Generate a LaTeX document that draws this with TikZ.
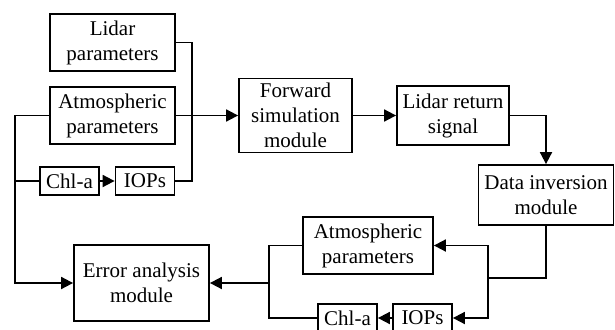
\documentclass[tikz,border=0pt]{standalone}
\usepackage{fontspec}
\setmainfont{Liberation Serif}
\usepackage{tikz}
\usetikzlibrary{calc,positioning,arrows.meta}
\tikzstyle{blockbox} = [rectangle,
    draw=black, line width=1.8pt,
    inner sep=0pt,
    align=center,
    font=\fontsize{21}{25}\selectfont]
\tikzstyle{arrow} = [line width=1.8pt,->,>={Triangle[length=12pt,width=12pt]}]

\begin{document}
\begin{tikzpicture}[x=1pt,y=-1pt,
    line/.style={draw, line width=1.8pt},
    smallbox/.style={blockbox, minimum width=59pt, minimum height=28pt}
    ]
  \useasboundingbox (0,0) rectangle (615,329);
  \clip (0,0) rectangle (615,329);
  \node [blockbox, minimum width=125pt, minimum height=57pt] (LidPar) at (112.5,42.5) {Lidar\\parameters};
  \node [blockbox, minimum width=125pt, minimum height=57pt] (AtmIn) at (112.5,115.5) {Atmospheric\\parameters};
  \node [smallbox] (ChlIn) at (69.5,181) {Chl-a};
  \node [smallbox] (IopIn) at (145,181) {IOPs};
  \node [blockbox, minimum width=113pt, minimum height=74pt] (Fwd) at (295.5,115.5) {Forward\\simulation\\module};
  \node [blockbox, minimum width=112pt, minimum height=59pt] (Ret) at (453,115.5) {Lidar return\\signal};
  \node [blockbox, minimum width=135pt, minimum height=60pt] (Inv) at (546,195) {Data inversion\\module};
  \node [blockbox, minimum width=135pt, minimum height=76pt] (Err) at (141.5,283) {Error analysis\\module};
  \node [blockbox, minimum width=130pt, minimum height=57pt] (AtmOut) at (368,245.5) {Atmospheric\\parameters};
  \node [smallbox] (ChlOut) at (347.5,318) {Chl-a};
  \node [smallbox] (IopOut) at (422.5,318) {IOPs};
  \coordinate (J1) at (192,181);
  \coordinate (J2) at (15,283);
  \coordinate (J3) at (488,278);
  \coordinate (J4) at (269,283);
  \draw [line] (LidPar.east) -| (J1) -- (IopIn.east);
  \draw [arrow] (AtmIn.east) -- (Fwd.west);
  \draw [arrow] (AtmIn.west) -| (J2) -- (Err.west);
  \draw [line] (J2 |- ChlIn.west) -- (ChlIn.west);
  \draw [arrow] (ChlIn) -- (IopIn);
  \draw [arrow] (Fwd) -- (Ret);
  \draw [arrow] (Ret.east) -| (Inv.north);
  \draw [line] (Inv.south) |- (J3);
  \draw [arrow] (J3) |- (AtmOut.east);
  \draw [arrow] (J3) |- (IopOut.east);
  \draw [arrow] (IopOut) -- (ChlOut);
  \draw [line] (AtmOut.west) -| (J4);
  \draw [line] (ChlOut.west) -| (J4);
  \draw [arrow] (J4) -- (Err.east);
\end{tikzpicture}
\end{document}
